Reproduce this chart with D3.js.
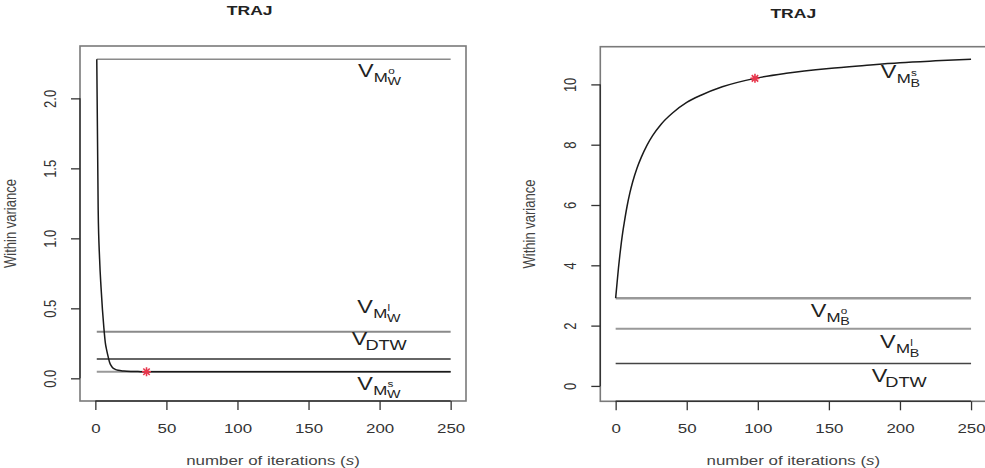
<!DOCTYPE html>
<html>
<head>
<meta charset="utf-8">
<script src="https://cdn.jsdelivr.net/npm/d3@7"></script>
<style>
  body { margin: 0; background: #fff; }
  svg { display: block; }
</style>
</head>
<body>
<div id="chart"></div>
<script>
// Values
const xTicks = [0, 50, 100, 150, 200, 250];
const yTicksLeft = [0, 0.5, 1, 1.5, 2];
const yTicksRight = [0, 2, 4, 6, 8, 10];

// within variance of the TRAJ run, left panel (decreasing)
const iterLeft   = [1, 2, 3, 4, 5, 6, 7, 8, 9, 10, 11, 12, 14, 16, 20, 25, 30, 36, 50, 100, 150, 200, 250];
const withinLeft = [2.28, 1.2, 0.85, 0.65, 0.49, 0.36, 0.255, 0.2, 0.155, 0.115, 0.092, 0.078, 0.064, 0.057, 0.052, 0.049, 0.048, 0.047, 0.047, 0.047, 0.047, 0.047, 0.047];

// right panel (increasing)
const iterRight   = [0, 1, 2, 3, 4, 5, 6, 8, 10, 12, 15, 18, 22, 26, 32, 40, 50, 60, 75, 98, 120, 150, 175, 200, 225, 250];
const withinRight = [2.91, 3.42, 3.92, 4.36, 4.75, 5.1, 5.4, 5.95, 6.4, 6.77, 7.22, 7.58, 7.98, 8.3, 8.68, 9.05, 9.4, 9.64, 9.92, 10.2, 10.37, 10.53, 10.63, 10.72, 10.78, 10.83];

// horizontal reference values
const refLeft  = [2.279, 0.333, 0.138, 0.047];
const refRight = [2.91, 1.90, 0.74];

// optimum markers (s, value)
const starLeft  = [36, 0.047];
const starRight = [98, 10.2];

// label texts: superscript / subscript of V_M, or plain subscript
const labelsLeft  = [{ sup: "o", sub: "W" }, { sup: "l", sub: "W" }, { plain: "DTW" }, { sup: "s", sub: "W" }];
const labelsRight = [{ sup: "s", sub: "B" }, { sup: "o", sub: "B" }, { sup: "l", sub: "B" }, { plain: "DTW" }];

const width = 985, height = 468;
const SX = 1.3;   // the picture is stretched horizontally
const FONT = "'Liberation Sans', Arial, Helvetica, sans-serif";

const svg = d3.select("#chart").append("svg")
    .attr("width", width)
    .attr("height", height)
    .attr("font-family", FONT);

function stretchedText(parent, x, y, str, size, opt = {}) {
    const g = parent.append("g")
        .attr("transform", `translate(${x},${y}) scale(${SX},1)` + (opt.rotate ? " rotate(-90)" : ""));
    return g.append("text")
        .attr("text-anchor", opt.anchor || "middle")
        .attr("font-size", size)
        .attr("font-weight", opt.bold ? "bold" : null)
        .attr("fill", opt.fill || "#333")
        .text(str);
}

function drawLabel(parent, px, py, lab) {
    const g = parent.append("g").attr("transform", `translate(${px},${py}) scale(${SX},1)`);
    g.append("text").attr("font-size", 18).attr("fill", "#222").text("V");
    if (lab.plain) {
        g.append("text").attr("x", 10.5).attr("y", 5).attr("font-size", 14).attr("fill", "#222").text(lab.plain);
    } else {
        g.append("text").attr("x", 12.2).attr("y", 5).attr("font-size", 13).attr("fill", "#222").text("M");
        g.append("text").attr("x", 23.2).attr("y", -2.5).attr("font-size", 9).attr("fill", "#222").text(lab.sup);
        g.append("text").attr("x", 22.8).attr("y", 8.5).attr("font-size", 11).attr("fill", "#222").text(lab.sub);
    }
}

function drawPanel(p) {
    const x = d3.scaleLinear().domain([-10.8, 260.8]).range([p.box[0], p.box[1]]);
    const y = d3.scaleLinear().domain(p.yDomain).range([p.box[3], p.box[2]]);
    const g = svg.append("g");

    // plot frame
    g.append("rect")
        .attr("x", x.range()[0]).attr("y", y.range()[1])
        .attr("width", x.range()[1] - x.range()[0])
        .attr("height", y.range()[0] - y.range()[1])
        .attr("fill", "none").attr("stroke", "#7a7a7a").attr("stroke-width", 1.6);

    // x axis
    const xa = g.append("g")
        .attr("transform", `translate(0,${y.range()[0]})`)
        .attr("font-family", FONT)
        .call(d3.axisBottom(x).tickValues(xTicks).tickSize(9).tickSizeOuter(0));
    xa.select(".domain").remove();
    xa.selectAll(".tick line").attr("stroke", "#333").attr("stroke-width", 1.3);
    xa.selectAll(".tick text")
        .attr("y", 32).attr("dy", 0)
        .attr("font-size", 13).attr("fill", "#333")
        .attr("transform", `scale(${SX},1)`);
    g.append("line")
        .attr("x1", x(xTicks[0])).attr("x2", x(xTicks[xTicks.length - 1]))
        .attr("y1", y.range()[0]).attr("y2", y.range()[0])
        .attr("stroke", "#333").attr("stroke-width", 1.4);

    // y axis
    const ya = g.append("g")
        .attr("transform", `translate(${x.range()[0]},0)`)
        .attr("font-family", FONT)
        .call(d3.axisLeft(y).tickValues(p.yTicks).tickSize(9).tickSizeOuter(0).tickFormat(p.yFormat));
    ya.select(".domain").remove();
    ya.selectAll(".tick line").attr("stroke", "#333").attr("stroke-width", 1.3);
    ya.selectAll(".tick text")
        .attr("x", 0).attr("y", -24 / SX).attr("dy", 0)
        .attr("text-anchor", "middle")
        .attr("font-size", 13).attr("fill", "#333")
        .attr("transform", `scale(${SX},1) rotate(-90)`);
    g.append("line")
        .attr("x1", x.range()[0]).attr("x2", x.range()[0])
        .attr("y1", y(p.yTicks[0])).attr("y2", y(p.yTicks[p.yTicks.length - 1]))
        .attr("stroke", "#333").attr("stroke-width", 1.4);

    // reference lines
    p.refs.forEach((v, i) => {
        g.append("line")
            .attr("x1", x(p.refFrom)).attr("x2", x(250))
            .attr("y1", y(v)).attr("y2", y(v))
            .attr("stroke", p.refStyle[i][0])
            .attr("stroke-width", p.refStyle[i][1]);
    });

    // within variance curve
    const line = d3.line().x(d => x(d[0])).y(d => y(d[1])).curve(d3.curveMonotoneX);
    g.append("path")
        .datum(d3.zip(p.iter, p.within))
        .attr("d", line)
        .attr("fill", "none")
        .attr("stroke", "#1a1a1a")
        .attr("stroke-width", 1.5);

    // optimum star (pch 8)
    g.append("path")
        .attr("transform", `translate(${x(p.star[0])},${y(p.star[1])})`)
        .attr("d", "M-4.5,0L4.5,0M0,-4.5L0,4.5M-3.2,-3.2L3.2,3.2M-3.2,3.2L3.2,-3.2")
        .attr("stroke", "#e8364c").attr("stroke-width", 1.6).attr("fill", "none");

    // V labels
    p.labels.forEach((lab, i) => drawLabel(g, x(p.labelAt[i][0]), y(p.labelAt[i][1]), lab));

    // titles
    stretchedText(g, p.titleAt[0], p.titleAt[1], "TRAJ", 13.5, { bold: true, fill: "#222" });
    const xt = stretchedText(g, (x.range()[0] + x.range()[1]) / 2, 465, "", 13, { fill: "#444" });
    xt.append("tspan").text("number of iterations (");
    xt.append("tspan").attr("font-style", "italic").text("s");
    xt.append("tspan").text(")");
    stretchedText(g, p.yTitleX, (y.range()[0] + y.range()[1]) / 2, "Within variance", 13, { rotate: true, fill: "#444" });
}

drawPanel({
    box: [80, 466, 46, 401],
    yDomain: [-0.162, 2.374],
    yTicks: yTicksLeft,
    yFormat: d3.format(".1f"),
    iter: iterLeft, within: withinLeft,
    refs: refLeft, refFrom: 1,
    refStyle: [["#8a8a8a", 1.6], ["#8a8a8a", 2], ["#333", 1.3], ["#999", 2]],
    star: starLeft,
    labels: labelsLeft,
    labelAt: [[184.8, 2.154], [184.3, 0.464], [180.4, 0.238], [184.3, -0.080]],
    titleAt: [249.7, 15],
    yTitleX: 16
});

drawPanel({
    box: [600.3, 986.4, 46.7, 401.3],
    yDomain: [-0.51, 11.25],
    yTicks: yTicksRight,
    yFormat: d3.format("d"),
    iter: iterRight, within: withinRight,
    refs: refRight, refFrom: 0,
    refStyle: [["#999", 2.5], ["#999", 2], ["#444", 1.5]],
    star: starRight,
    labels: labelsRight,
    labelAt: [[186.5, 10.2], [137.2, 2.30], [186.0, 1.25], [180.1, 0.14]],
    titleAt: [793.3, 18],
    yTitleX: 535
});
</script>
</body>
</html>
